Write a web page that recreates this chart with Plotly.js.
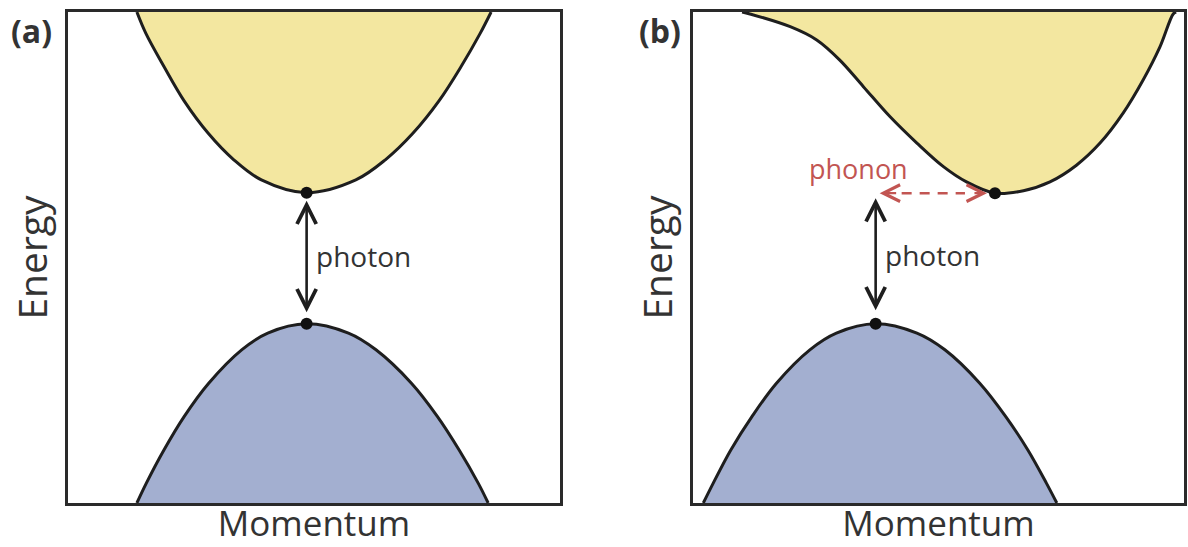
<!DOCTYPE html>
<html>
<head>
<meta charset="utf-8">
<script src="https://cdn.plot.ly/plotly-3.0.1.min.js"></script>
<style>html,body{margin:0;padding:0;background:#fff;}#chart{width:1188px;height:547px;}</style>
</head>
<body>
<div id="chart"></div>
<script>
// ---- Panel (a): direct band gap ----
const cbA_x = [1.40, 1.58, 1.95, 2.36, 2.85, 3.37, 3.93, 4.85, 5.85, 6.45, 7.01, 7.54, 7.99, 8.38, 8.60];
const cbA_y = [10.0, 9.57, 8.89, 8.19, 7.53, 6.99, 6.58, 6.32, 6.58, 6.99, 7.53, 8.19, 8.89, 9.57, 10.0];
const vbA_x = [1.40, 1.59, 1.95, 2.36, 2.86, 3.53, 4.06, 4.85, 5.70, 6.26, 6.98, 7.51, 7.95, 8.34, 8.54];
const vbA_y = [0.00, 0.40, 1.08, 1.76, 2.44, 3.12, 3.46, 3.65, 3.46, 3.12, 2.44, 1.76, 1.08, 0.40, 0.00];

// ---- Panel (b): indirect band gap ----
const cbB_x = [1.00, 1.16, 1.98, 2.52, 2.99, 3.47, 4.01, 4.56, 5.10, 5.57, 6.15, 6.73, 7.27, 7.81, 8.29, 8.76, 9.17, 9.51, 9.78, 9.84];
const cbB_y = [10.0, 9.96, 9.70, 9.43, 9.02, 8.48, 7.87, 7.33, 6.85, 6.54, 6.31, 6.36, 6.54, 6.88, 7.33, 7.94, 8.62, 9.29, 9.96, 10.0];
const vbB_x = [0.21, 0.41, 0.77, 1.20, 1.70, 2.38, 2.92, 3.72, 4.56, 5.13, 5.84, 6.37, 6.82, 7.20, 7.41];
const vbB_y = [0.00, 0.40, 1.08, 1.76, 2.44, 3.12, 3.46, 3.65, 3.46, 3.12, 2.44, 1.76, 1.08, 0.40, 0.00];

// ---- Text ----
const panelLabels = ['(a)', '(b)'];
const xTitle = 'Momentum';
const yTitle = 'Energy';
const photonLabel = 'photon';
const phononLabel = 'phonon';

// helpers: band extrema read from the arrays
function extremum(xs, ys, useMin) {
  let k = 0;
  for (let i = 1; i < ys.length; i++) {
    if (useMin ? ys[i] < ys[k] : ys[i] > ys[k]) k = i;
  }
  return {x: xs[k], y: ys[k]};
}
const cbMinA = extremum(cbA_x, cbA_y, true);
const vbMaxA = extremum(vbA_x, vbA_y, false);
const cbMinB = extremum(cbB_x, cbB_y, true);
const vbMaxB = extremum(vbB_x, vbB_y, false);

const FONT = 'Open Sans, Noto Sans, sans-serif';
const TXT = '#333333';
const LINE = '#1e1e1e';
const YELLOW = '#f3e7a0';
const BLUE = '#a3afd0';
const RED = '#c25552';

function band(xs, ys, fill, xa, ya) {
  return {x: xs, y: ys, xaxis: xa, yaxis: ya, type: 'scatter', mode: 'lines',
          fill: 'toself', fillcolor: fill,
          line: {color: LINE, width: 3, shape: 'spline', smoothing: 1},
          hoverinfo: 'skip', showlegend: false};
}
function dots(pts, xa, ya) {
  return {x: pts.map(p => p.x), y: pts.map(p => p.y), xaxis: xa, yaxis: ya,
          type: 'scatter', mode: 'markers', marker: {color: '#111', size: 12},
          cliponaxis: false, hoverinfo: 'skip', showlegend: false};
}

const traces = [
  band(cbA_x, cbA_y, YELLOW, 'x', 'y'),
  band(vbA_x, vbA_y, BLUE, 'x', 'y'),
  band(cbB_x, cbB_y, YELLOW, 'x2', 'y2'),
  band(vbB_x, vbB_y, BLUE, 'x2', 'y2'),
  dots([cbMinA, vbMaxA], 'x', 'y'),
  dots([cbMinB, vbMaxB], 'x2', 'y2')
];

const W = 1188, H = 547;
const frameA = [68, 560], frameB = [693, 1184], frameY = [12, 503];
const pxPerUnitB = (frameB[1] - frameB[0]) / 10;

function axisX(dom, anchor) {
  return {domain: dom, range: [0, 10], anchor: anchor, showline: true, mirror: true, linewidth: 3, linecolor: '#2a2a2a',
          showgrid: false, zeroline: false, showticklabels: false, ticks: '', fixedrange: true,
          title: {text: xTitle, font: {family: FONT, size: 35, color: TXT}, standoff: 7}};
}
function axisY(anchor) {
  return {domain: [1 - frameY[1] / H, 1 - frameY[0] / H], range: [0, 10], anchor: anchor,
          showline: true, mirror: true, linewidth: 3, linecolor: '#2a2a2a',
          showgrid: false, zeroline: false, showticklabels: false, ticks: '', fixedrange: true,
          title: {text: yTitle, font: {family: FONT, size: 39, color: TXT}, standoff: 6}};
}

const arrowCommon = {text: '', showarrow: true, arrowside: 'end+start', arrowhead: 5, startarrowhead: 5,
                     arrowsize: 1.45, startarrowsize: 1.45, arrowwidth: 2.6, arrowcolor: LINE};

const annotations = [
  // panel labels
  {xref: 'paper', yref: 'paper', x: 9 / W, y: 1 - 30 / H, xanchor: 'left', yanchor: 'middle',
   text: '<b>' + panelLabels[0] + '</b>', showarrow: false, font: {family: FONT, size: 32, color: TXT}},
  {xref: 'paper', yref: 'paper', x: 637 / W, y: 1 - 30 / H, xanchor: 'left', yanchor: 'middle',
   text: '<b>' + panelLabels[1] + '</b>', showarrow: false, font: {family: FONT, size: 32, color: TXT}},
  // photon arrow (a)
  Object.assign({}, arrowCommon, {xref: 'x', yref: 'y', axref: 'x', ayref: 'y',
    x: cbMinA.x, y: cbMinA.y, ax: vbMaxA.x, ay: vbMaxA.y, standoff: 8, startstandoff: 10}),
  {xref: 'x', yref: 'y', x: cbMinA.x, y: (cbMinA.y + vbMaxA.y) / 2, xanchor: 'left', yanchor: 'middle',
   xshift: 7, yshift: 2, text: photonLabel, showarrow: false, font: {family: FONT, size: 28, color: TXT}},
  // photon arrow (b) : vertical at valence maximum up to conduction-minimum energy
  Object.assign({}, arrowCommon, {xref: 'x2', yref: 'y2', axref: 'x2', ayref: 'y2',
    x: vbMaxB.x, y: cbMinB.y, ax: vbMaxB.x, ay: vbMaxB.y, standoff: 5, startstandoff: 12}),
  {xref: 'x2', yref: 'y2', x: vbMaxB.x, y: (cbMinB.y + vbMaxB.y) / 2, xanchor: 'left', yanchor: 'middle',
   xshift: 7, yshift: 3, text: photonLabel, showarrow: false, font: {family: FONT, size: 28, color: TXT}},
  // phonon arrow heads (b)
  {xref: 'x2', yref: 'y2', x: vbMaxB.x, y: cbMinB.y, ax: 22, ay: 0, text: '', showarrow: true,
   arrowhead: 5, arrowsize: 1.5, arrowwidth: 2.2, arrowcolor: RED, standoff: 4},
  {xref: 'x2', yref: 'y2', x: cbMinB.x, y: cbMinB.y, ax: -22, ay: 0, text: '', showarrow: true,
   arrowhead: 5, arrowsize: 1.5, arrowwidth: 2.2, arrowcolor: RED, standoff: 8},
  {xref: 'x2', yref: 'y2', x: vbMaxB.x, y: cbMinB.y, xanchor: 'center', yanchor: 'bottom',
   xshift: -17, yshift: 4, text: phononLabel, showarrow: false, font: {family: FONT, size: 27, color: RED}}
];

const shapes = [
  {type: 'line', xref: 'x2', yref: 'y2', layer: 'above',
   x0: vbMaxB.x + 26 / pxPerUnitB, x1: cbMinB.x - 30 / pxPerUnitB, y0: cbMinB.y, y1: cbMinB.y,
   line: {color: RED, width: 2.6, dash: '10px,8px'}}
];

const layout = {
  width: W, height: H, margin: {l: 0, r: 0, t: 0, b: 0},
  paper_bgcolor: '#ffffff', plot_bgcolor: '#ffffff',
  showlegend: false, hovermode: false,
  xaxis: axisX([frameA[0] / W, frameA[1] / W], 'y'),
  yaxis: axisY('x'),
  xaxis2: axisX([frameB[0] / W, frameB[1] / W], 'y2'),
  yaxis2: axisY('x2'),
  annotations: annotations,
  shapes: shapes
};

Plotly.newPlot('chart', traces, layout, {staticPlot: true, displayModeBar: false});
</script>
</body>
</html>
